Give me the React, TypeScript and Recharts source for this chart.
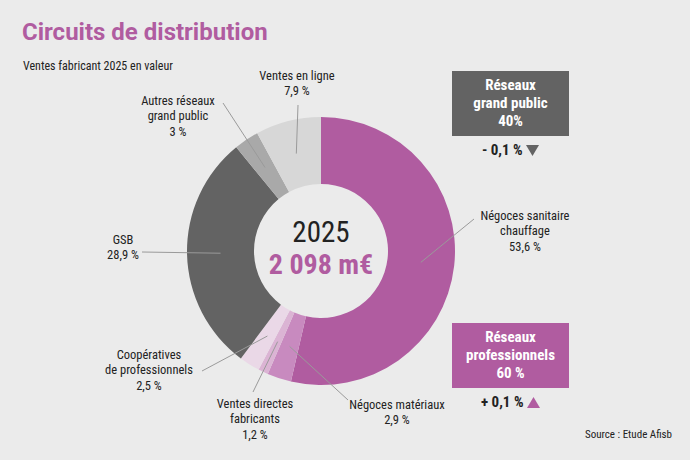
import { PieChart, Pie, Cell } from 'recharts';

const CIRCUITS = [
  'Négoces sanitaire chauffage',
  'Négoces matériaux',
  'Ventes directes fabricants',
  'Coopératives de professionnels',
  'GSB',
  'Autres réseaux grand public',
  'Ventes en ligne',
];
const SHARES = [53.6, 2.9, 1.2, 2.5, 28.9, 3, 7.9];
const COLORS = ['#b05ca0', '#c88abf', '#dbb4d4', '#ead8e7', '#636363', '#a9a9a9', '#d7d7d7'];

const YEAR = '2025';
const TOTAL = '2 098 m€';

const GROUPS = [
  { title: ['Réseaux', 'grand public'], share: '40%', change: '- 0,1 %', up: false },
  { title: ['Réseaux', 'professionnels'], share: '60 %', change: '+ 0,1 %', up: true },
];

const data = CIRCUITS.map((name, i) => ({ name, value: SHARES[i] }));

const COND = "'Roboto Condensed', 'Liberation Sans Narrow', 'DejaVu Sans Condensed', Roboto, sans-serif";
const PURPLE = '#b05ca0';
const DARK = '#636363';
const CX = 321;
const CY = 251;

// where each slice label sits (first line centre) and where its leader starts
const LABEL_LAYOUT: Record<string, { x: number; y: number; lines: string[]; from: [number, number] }> = {
  'Négoces sanitaire chauffage': { x: 525, y: 215, lines: ['Négoces sanitaire', 'chauffage'], from: [474, 219] },
  'Négoces matériaux': { x: 397, y: 404, lines: ['Négoces matériaux'], from: [348, 400] },
  'Ventes directes fabricants': { x: 255, y: 403, lines: ['Ventes directes', 'fabricants'], from: [253, 392] },
  'Coopératives de professionnels': { x: 149, y: 354, lines: ['Coopératives', 'de professionnels'], from: [202, 371] },
  GSB: { x: 123, y: 239, lines: ['GSB'], from: [142, 252] },
  'Autres réseaux grand public': { x: 178, y: 100, lines: ['Autres réseaux', 'grand public'], from: [223, 103] },
  'Ventes en ligne': { x: 297, y: 75, lines: ['Ventes en ligne'], from: [298, 105] },
};

const RAD = Math.PI / 180;

function SliceLabel(props: any) {
  const { cx, cy, midAngle, innerRadius, outerRadius, name, value } = props;
  const layout = LABEL_LAYOUT[name];
  if (!layout) return null;
  const r = (innerRadius + outerRadius) / 2;
  const ex = cx + r * Math.cos(-midAngle * RAD);
  const ey = cy + r * Math.sin(-midAngle * RAD);
  const lines = [...layout.lines, `${String(value).replace('.', ',')} %`];
  return (
    <g>
      <line x1={layout.from[0]} y1={layout.from[1]} x2={ex} y2={ey} stroke="#9a9a9a" strokeWidth={1} />
      {lines.map((t, i) => (
        <text
          key={i}
          x={layout.x}
          y={layout.y + i * 15.7}
          textAnchor="middle"
          dominantBaseline="central"
          fontFamily={COND}
          fontSize={12.5}
          fill="#222"
        >
          {t}
        </text>
      ))}
    </g>
  );
}

function GroupBox({ g, top, color }: { g: (typeof GROUPS)[number]; top: number; color: string }) {
  return (
    <div style={{ position: 'absolute', left: 452, top, width: 117 }}>
      <div
        style={{
          background: color,
          height: 65,
          color: '#fff',
          fontFamily: COND,
          fontWeight: 700,
          fontSize: 15,
          lineHeight: '18px',
          textAlign: 'center',
          paddingTop: 5,
          boxSizing: 'border-box',
        }}
      >
        {g.title.map((t) => (
          <div key={t}>{t}</div>
        ))}
        <div>{g.share}</div>
      </div>
      <div style={{ textAlign: 'center', marginTop: 5, fontFamily: COND, fontWeight: 700, fontSize: 15, color: '#222' }}>
        {g.change}{' '}
        <svg width={13} height={11} style={{ verticalAlign: '-1px' }}>
          {g.up ? <polygon points="0,11 13,11 6.5,0" fill={PURPLE} /> : <polygon points="0,0 13,0 6.5,11" fill={DARK} />}
        </svg>
      </div>
    </div>
  );
}

export default function App() {
  return (
    <div style={{ position: 'absolute', left: 0, top: 0, width: 690, height: 460, background: '#ebebeb', overflow: 'hidden' }}>
      <div style={{ position: 'absolute', left: 22, top: 18, fontFamily: 'Roboto, sans-serif', fontWeight: 700, fontSize: 24, color: PURPLE }}>
        Circuits de distribution
      </div>
      <div style={{ position: 'absolute', left: 23, top: 59, fontFamily: COND, fontSize: 12, color: '#222' }}>
        Ventes fabricant 2025 en valeur
      </div>
      <PieChart width={690} height={460} margin={{ top: 0, right: 0, bottom: 0, left: 0 }} style={{ position: 'absolute', left: 0, top: 0 }}>
        <Pie
          data={data}
          dataKey="value"
          nameKey="name"
          cx={CX}
          cy={CY}
          innerRadius={67}
          outerRadius={134}
          startAngle={90}
          endAngle={-270}
          stroke="none"
          label={SliceLabel}
          labelLine={false}
          isAnimationActive={false}
        >
          {data.map((d, i) => (
            <Cell key={d.name} fill={COLORS[i]} />
          ))}
        </Pie>
      </PieChart>
      <div style={{ position: 'absolute', left: CX - 70, top: CY - 35, width: 140, textAlign: 'center', fontFamily: COND, color: '#222' }}>
        <div style={{ fontSize: 29, lineHeight: '32px' }}>{YEAR}</div>
        <div style={{ fontSize: 28, lineHeight: '33px', fontWeight: 700, color: PURPLE }}>{TOTAL}</div>
      </div>
      <GroupBox g={GROUPS[0]} top={71} color={DARK} />
      <GroupBox g={GROUPS[1]} top={323} color={PURPLE} />
      <div style={{ position: 'absolute', left: 585, top: 428, fontFamily: COND, fontSize: 11, color: '#222' }}>
        Source : Etude Afisb
      </div>
    </div>
  );
}
